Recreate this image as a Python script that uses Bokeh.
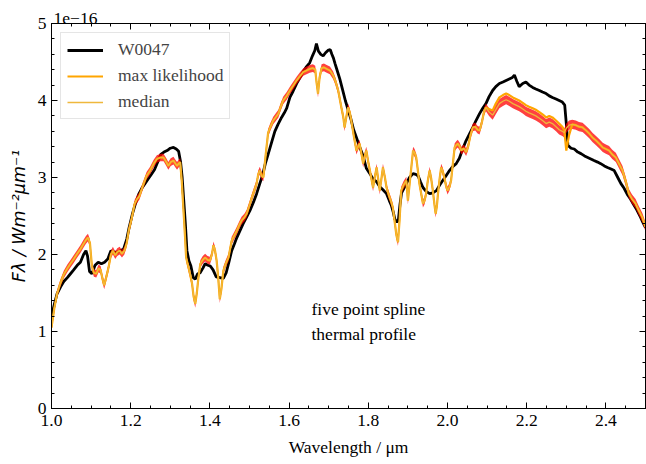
from bokeh.plotting import figure
from bokeh.models import Range1d, FixedTicker, LinearAxis, Label, Legend, LegendItem
from bokeh.embed import file_html
from bokeh.resources import INLINE

# ---------------- data ----------------
obs_wl = [
    1.000, 1.007, 1.014, 1.023, 1.031, 1.040, 1.048, 1.056, 1.065, 1.073,
    1.081, 1.087, 1.091, 1.096, 1.102, 1.110, 1.118, 1.126, 1.134, 1.142,
    1.150, 1.158, 1.166, 1.174, 1.182, 1.190, 1.196, 1.204, 1.212, 1.220,
    1.228, 1.236, 1.244, 1.252, 1.260, 1.268, 1.276, 1.284, 1.292, 1.300,
    1.308, 1.315, 1.321, 1.326, 1.330, 1.334, 1.338, 1.342, 1.347, 1.352,
    1.358, 1.363, 1.369, 1.375, 1.382, 1.388, 1.395, 1.401, 1.408, 1.416,
    1.425, 1.434, 1.441, 1.448, 1.455, 1.462, 1.468, 1.476, 1.484, 1.492,
    1.501, 1.510, 1.518, 1.526, 1.533, 1.540, 1.547, 1.556, 1.564, 1.572,
    1.581, 1.588, 1.594, 1.602, 1.610, 1.619, 1.628, 1.636, 1.644, 1.652,
    1.659, 1.665, 1.669, 1.674, 1.680, 1.686, 1.692, 1.698, 1.704, 1.708,
    1.712, 1.716, 1.722, 1.728, 1.735, 1.742, 1.749, 1.756, 1.763, 1.770,
    1.778, 1.787, 1.795, 1.804, 1.812, 1.820, 1.829, 1.837, 1.846, 1.853,
    1.858, 1.863, 1.867, 1.872, 1.876, 1.880, 1.884, 1.890, 1.896, 1.904,
    1.913, 1.920, 1.926, 1.932, 1.938, 1.946, 1.955, 1.963, 1.972, 1.980,
    1.988, 1.996, 2.005, 2.013, 2.022, 2.030, 2.039, 2.047, 2.055, 2.064,
    2.072, 2.081, 2.089, 2.097, 2.105, 2.114, 2.122, 2.131, 2.140, 2.148,
    2.156, 2.164, 2.169, 2.175, 2.181, 2.190, 2.198, 2.206, 2.215, 2.223,
    2.232, 2.240, 2.249, 2.257, 2.265, 2.274, 2.282, 2.290, 2.296, 2.300,
    2.304, 2.312, 2.320, 2.329, 2.337, 2.346, 2.354, 2.362, 2.370, 2.379,
    2.387, 2.396, 2.404, 2.413, 2.421, 2.430, 2.438, 2.446, 2.454, 2.462,
    2.470, 2.478, 2.486, 2.493, 2.500,
]
obs_flux = [
    1.20, 1.35, 1.49, 1.58, 1.65, 1.70, 1.75, 1.80, 1.86, 1.90,
    2.00, 2.05, 1.98, 1.78, 1.75, 1.86, 1.90, 1.88, 1.90, 1.94,
    2.05, 2.03, 2.03, 2.05, 2.07, 2.20, 2.35, 2.52, 2.66, 2.78,
    2.86, 2.92, 2.98, 3.04, 3.10, 3.20, 3.30, 3.33, 3.35, 3.38,
    3.39, 3.37, 3.34, 3.20, 3.00, 2.70, 2.40, 2.05, 1.92, 1.85,
    1.70, 1.68, 1.75, 1.76, 1.82, 1.88, 1.86, 1.85, 1.80, 1.71,
    1.70, 1.69, 1.76, 1.90, 2.05, 2.14, 2.22, 2.31, 2.40, 2.48,
    2.57, 2.68, 2.79, 2.92, 3.03, 3.18, 3.30, 3.46, 3.60, 3.69,
    3.78, 3.84, 3.90, 4.04, 4.12, 4.22, 4.30, 4.38, 4.44, 4.49,
    4.58, 4.65, 4.74, 4.64, 4.60, 4.58, 4.62, 4.65, 4.66, 4.60,
    4.55, 4.48, 4.38, 4.28, 4.14, 4.00, 3.88, 3.76, 3.62, 3.52,
    3.40, 3.28, 3.12, 3.05, 2.98, 2.95, 2.88, 2.84, 2.79, 2.70,
    2.64, 2.55, 2.46, 2.42, 2.45, 2.65, 2.80, 2.86, 2.92, 3.00,
    3.05, 3.04, 3.02, 2.94, 2.87, 2.82, 2.79, 2.80, 2.83, 2.90,
    2.96, 3.02, 3.09, 3.14, 3.18, 3.25, 3.38, 3.48, 3.56, 3.65,
    3.74, 3.83, 3.90, 3.96, 4.05, 4.13, 4.18, 4.22, 4.24, 4.26,
    4.28, 4.30, 4.33, 4.25, 4.18, 4.22, 4.24, 4.20, 4.17, 4.15,
    4.13, 4.11, 4.09, 4.06, 4.04, 4.02, 4.00, 3.98, 3.94, 3.70,
    3.42, 3.38, 3.37, 3.33, 3.31, 3.28, 3.26, 3.24, 3.22, 3.20,
    3.18, 3.15, 3.13, 3.11, 3.09, 3.00, 2.92, 2.86, 2.78, 2.72,
    2.65, 2.58, 2.50, 2.42, 2.35,
]

model_wl = [
    1.000, 1.007, 1.014, 1.022, 1.031, 1.040, 1.048, 1.056, 1.065, 1.073, 1.081, 1.087,
    1.092, 1.097, 1.102, 1.107, 1.113, 1.119, 1.124, 1.129, 1.133, 1.138, 1.144, 1.150,
    1.155, 1.161, 1.166, 1.172, 1.178, 1.184, 1.190, 1.195, 1.203, 1.210, 1.216, 1.222,
    1.230, 1.240, 1.249, 1.258, 1.266, 1.275, 1.283, 1.290, 1.295, 1.301, 1.308, 1.313,
    1.317, 1.321, 1.325, 1.329, 1.333, 1.337, 1.340, 1.346, 1.351, 1.355, 1.359, 1.363,
    1.367, 1.371, 1.376, 1.382, 1.388, 1.394, 1.400, 1.405, 1.409, 1.413, 1.417, 1.421,
    1.425, 1.429, 1.434, 1.440, 1.447, 1.455, 1.462, 1.468, 1.474, 1.480, 1.487, 1.493,
    1.500, 1.506, 1.512, 1.518, 1.522, 1.526, 1.531, 1.535, 1.541, 1.547, 1.553, 1.560,
    1.566, 1.573, 1.579, 1.585, 1.594, 1.602, 1.610, 1.619, 1.628, 1.636, 1.644, 1.652,
    1.660, 1.666, 1.669, 1.673, 1.677, 1.682, 1.688, 1.695, 1.703, 1.711, 1.717, 1.724,
    1.728, 1.732, 1.737, 1.740, 1.745, 1.749, 1.753, 1.757, 1.763, 1.770, 1.774, 1.778,
    1.783, 1.787, 1.791, 1.795, 1.800, 1.804, 1.808, 1.812, 1.817, 1.821, 1.825, 1.829,
    1.833, 1.837, 1.842, 1.846, 1.850, 1.854, 1.858, 1.862, 1.866, 1.871, 1.875, 1.879,
    1.883, 1.889, 1.896, 1.900, 1.906, 1.913, 1.917, 1.921, 1.925, 1.929, 1.934, 1.938,
    1.942, 1.946, 1.950, 1.955, 1.959, 1.963, 1.967, 1.970, 1.973, 1.976, 1.980, 1.984,
    1.988, 1.992, 1.996, 2.000, 2.005, 2.009, 2.013, 2.018, 2.022, 2.026, 2.031, 2.035,
    2.041, 2.047, 2.052, 2.058, 2.064, 2.070, 2.076, 2.081, 2.087, 2.092, 2.097, 2.105,
    2.114, 2.122, 2.131, 2.140, 2.148, 2.156, 2.165, 2.173, 2.181, 2.190, 2.198, 2.206,
    2.215, 2.223, 2.232, 2.240, 2.249, 2.257, 2.265, 2.274, 2.282, 2.290, 2.295, 2.300,
    2.307, 2.315, 2.324, 2.332, 2.341, 2.350, 2.358, 2.366, 2.375, 2.383, 2.392, 2.400,
    2.408, 2.416, 2.425, 2.433, 2.442, 2.450, 2.458, 2.466, 2.475, 2.483, 2.492, 2.500,
]
ml_flux = [
    1.05, 1.30, 1.49, 1.62, 1.74, 1.82, 1.88, 1.94, 2.01, 2.07, 2.14, 2.19,
    2.22, 2.15, 1.85, 1.76, 1.75, 1.82, 1.80, 1.68, 1.60, 1.70, 1.83, 2.00,
    2.05, 1.99, 2.03, 2.05, 2.01, 2.05, 2.15, 2.31, 2.48, 2.66, 2.72, 2.76,
    2.88, 3.02, 3.09, 3.18, 3.24, 3.26, 3.26, 3.20, 3.15, 3.20, 3.22, 3.18,
    3.15, 3.18, 3.20, 2.95, 2.60, 2.25, 1.96, 1.83, 1.72, 1.62, 1.45, 1.36,
    1.50, 1.70, 1.88, 1.93, 1.96, 1.93, 1.92, 2.00, 2.12, 2.05, 1.92, 1.70,
    1.42, 1.55, 1.79, 1.88, 1.96, 2.18, 2.25, 2.31, 2.38, 2.44, 2.48, 2.53,
    2.64, 2.74, 2.83, 2.92, 3.04, 3.09, 3.02, 3.00, 3.30, 3.58, 3.66, 3.74,
    3.78, 3.83, 3.92, 4.00, 4.06, 4.13, 4.19, 4.26, 4.32, 4.37, 4.39, 4.41,
    4.42, 4.40, 4.25, 4.09, 4.30, 4.42, 4.43, 4.41, 4.39, 4.33, 4.25, 4.13,
    4.02, 3.91, 3.78, 3.65, 3.80, 3.91, 3.85, 3.74, 3.55, 3.35, 3.40, 3.44,
    3.30, 3.18, 3.28, 3.35, 3.20, 3.09, 2.98, 2.87, 3.02, 3.13, 2.98, 2.83,
    2.98, 3.13, 3.00, 2.87, 2.80, 2.74, 2.68, 2.61, 2.45, 2.25, 2.16, 2.45,
    2.83, 2.90, 2.96, 2.70, 3.00, 3.35, 3.32, 3.26, 3.10, 2.92, 2.78, 2.66,
    2.70, 2.79, 2.95, 3.09, 2.98, 2.83, 2.65, 2.53, 2.62, 2.79, 2.98, 3.13,
    3.08, 3.00, 2.90, 2.83, 2.88, 2.96, 3.15, 3.39, 3.42, 3.44, 3.40, 3.35,
    3.38, 3.33, 3.40, 3.55, 3.65, 3.66, 3.62, 3.61, 3.72, 3.85, 3.91, 3.89,
    3.87, 3.96, 4.04, 4.07, 4.09, 4.07, 4.04, 4.02, 4.00, 3.97, 3.94, 3.92,
    3.90, 3.88, 3.85, 3.82, 3.78, 3.80, 3.78, 3.74, 3.70, 3.66, 3.61, 3.35,
    3.55, 3.69, 3.68, 3.66, 3.65, 3.61, 3.57, 3.52, 3.48, 3.44, 3.39, 3.37,
    3.35, 3.30, 3.26, 3.18, 3.09, 2.95, 2.79, 2.72, 2.66, 2.57, 2.48, 2.36,
]
median_flux = [
    1.05, 1.30, 1.49, 1.62, 1.74, 1.82, 1.88, 1.94, 2.01, 2.07, 2.14, 2.19,
    2.22, 2.15, 1.85, 1.76, 1.75, 1.82, 1.80, 1.68, 1.60, 1.70, 1.83, 2.00,
    2.05, 1.99, 2.03, 2.05, 2.01, 2.05, 2.15, 2.31, 2.48, 2.66, 2.72, 2.76,
    2.88, 3.02, 3.09, 3.18, 3.24, 3.26, 3.26, 3.20, 3.15, 3.20, 3.22, 3.18,
    3.15, 3.18, 3.20, 2.95, 2.60, 2.25, 1.96, 1.83, 1.72, 1.62, 1.45, 1.36,
    1.50, 1.70, 1.88, 1.93, 1.96, 1.93, 1.92, 2.00, 2.12, 2.05, 1.92, 1.70,
    1.42, 1.55, 1.79, 1.88, 1.96, 2.18, 2.25, 2.31, 2.38, 2.44, 2.48, 2.53,
    2.64, 2.74, 2.83, 2.92, 3.04, 3.09, 3.02, 3.00, 3.30, 3.58, 3.66, 3.74,
    3.78, 3.83, 3.92, 4.00, 4.06, 4.13, 4.19, 4.26, 4.32, 4.37, 4.39, 4.41,
    4.42, 4.40, 4.25, 4.09, 4.30, 4.42, 4.43, 4.41, 4.39, 4.33, 4.25, 4.13,
    4.02, 3.91, 3.78, 3.65, 3.80, 3.91, 3.85, 3.74, 3.55, 3.35, 3.40, 3.44,
    3.30, 3.18, 3.28, 3.35, 3.20, 3.09, 2.98, 2.87, 3.02, 3.13, 2.98, 2.83,
    2.98, 3.13, 3.00, 2.87, 2.80, 2.74, 2.68, 2.61, 2.45, 2.25, 2.16, 2.45,
    2.83, 2.90, 2.96, 2.70, 3.00, 3.35, 3.32, 3.26, 3.10, 2.92, 2.78, 2.66,
    2.70, 2.79, 2.95, 3.09, 2.98, 2.83, 2.65, 2.53, 2.62, 2.79, 2.98, 3.13,
    3.08, 3.00, 2.90, 2.83, 2.88, 2.96, 3.15, 3.39, 3.42, 3.44, 3.40, 3.35,
    3.38, 3.33, 3.40, 3.55, 3.65, 3.66, 3.62, 3.61, 3.72, 3.85, 3.91, 3.85,
    3.81, 3.88, 3.96, 3.99, 4.01, 3.99, 3.96, 3.94, 3.92, 3.89, 3.86, 3.84,
    3.82, 3.80, 3.77, 3.74, 3.70, 3.72, 3.70, 3.66, 3.62, 3.60, 3.58, 3.64,
    3.68, 3.69, 3.68, 3.66, 3.65, 3.61, 3.57, 3.52, 3.48, 3.44, 3.39, 3.37,
    3.35, 3.30, 3.26, 3.18, 3.09, 2.95, 2.79, 2.72, 2.66, 2.57, 2.48, 2.36,
]
spread = [
    0.05, 0.05, 0.05, 0.05, 0.05, 0.05, 0.05, 0.05, 0.05, 0.05, 0.05, 0.05,
    0.05, 0.05, 0.05, 0.05, 0.05, 0.05, 0.05, 0.05, 0.05, 0.05, 0.05, 0.05,
    0.05, 0.05, 0.05, 0.05, 0.05, 0.05, 0.05, 0.05, 0.05, 0.05, 0.05, 0.05,
    0.05, 0.05, 0.05, 0.05, 0.05, 0.05, 0.05, 0.05, 0.05, 0.05, 0.05, 0.05,
    0.05, 0.05, 0.05, 0.05, 0.05, 0.05, 0.05, 0.05, 0.05, 0.05, 0.05, 0.05,
    0.05, 0.05, 0.05, 0.05, 0.05, 0.05, 0.05, 0.05, 0.05, 0.05, 0.05, 0.05,
    0.05, 0.05, 0.05, 0.05, 0.05, 0.05, 0.05, 0.05, 0.05, 0.05, 0.05, 0.05,
    0.05, 0.05, 0.05, 0.05, 0.05, 0.05, 0.05, 0.05, 0.05, 0.05, 0.05, 0.05,
    0.05, 0.05, 0.05, 0.05, 0.05, 0.05, 0.05, 0.05, 0.05, 0.05, 0.05, 0.05,
    0.05, 0.05, 0.05, 0.05, 0.05, 0.05, 0.05, 0.05, 0.05, 0.05, 0.05, 0.05,
    0.05, 0.05, 0.05, 0.05, 0.05, 0.05, 0.05, 0.05, 0.05, 0.05, 0.05, 0.05,
    0.05, 0.05, 0.05, 0.05, 0.05, 0.05, 0.05, 0.05, 0.05, 0.05, 0.05, 0.05,
    0.05, 0.05, 0.05, 0.05, 0.05, 0.05, 0.05, 0.05, 0.05, 0.05, 0.05, 0.05,
    0.05, 0.05, 0.05, 0.05, 0.05, 0.05, 0.05, 0.05, 0.05, 0.05, 0.05, 0.05,
    0.05, 0.05, 0.05, 0.05, 0.05, 0.05, 0.05, 0.05, 0.05, 0.05, 0.05, 0.05,
    0.05, 0.05, 0.05, 0.05, 0.05, 0.05, 0.05, 0.05, 0.05, 0.05, 0.05, 0.05,
    0.05, 0.05, 0.05, 0.05, 0.05, 0.05, 0.05, 0.05, 0.05, 0.05, 0.05, 0.05,
    0.06, 0.06, 0.06, 0.06, 0.06, 0.06, 0.06, 0.06, 0.06, 0.06, 0.06, 0.06,
    0.06, 0.06, 0.06, 0.06, 0.06, 0.06, 0.06, 0.06, 0.06, 0.06, 0.06, 0.06,
    0.06, 0.06, 0.06, 0.06, 0.06, 0.06, 0.06, 0.06, 0.06, 0.06, 0.06, 0.06,
    0.06, 0.06, 0.06, 0.06, 0.06, 0.06, 0.06, 0.06, 0.06, 0.06, 0.06, 0.06,
]

x_tick_values = [1.0, 1.2, 1.4, 1.6, 1.8, 2.0, 2.2, 2.4]
x_tick_labels = ["1.0", "1.2", "1.4", "1.6", "1.8", "2.0", "2.2", "2.4"]
y_tick_values = [0, 1, 2, 3, 4, 5]
y_tick_labels = ["0", "1", "2", "3", "4", "5"]

legend_labels = ["W0047", "max likelihood", "median"]
annotation_lines = ["five point spline", "thermal profile"]
offset_text = "1e\u221216"
x_label = "Wavelength / \u03bcm"
y_label = "F\u03bb / Wm\u207b\u00b2\u03bcm\u207b\u00b9"

assert len(obs_wl) == len(obs_flux)
assert len(model_wl) == len(ml_flux) == len(median_flux) == len(spread)

band_lo = [m - s for m, s in zip(median_flux, spread)]
band_hi = [m + s for m, s in zip(median_flux, spread)]

# ---------------- layout ----------------
W, H = 646, 464
FL, FR, FT, FB = 51, 645, 23, 408          # frame edges in pixels
X0, X1, Y0, Y1 = 1.0, 2.5, 0.0, 5.0

def dx(px):
    return X0 + (px - FL) * (X1 - X0) / (FR - FL)

def dy(py):
    return Y0 + (FB - py) * (Y1 - Y0) / (FB - FT)

SERIF = "Liberation Serif"
MATH = "DejaVu Sans"
FS = "17.5px"

p = figure(width=W, height=H, x_range=Range1d(X0, X1), y_range=Range1d(Y0, Y1),
           output_backend="svg", toolbar_location=None,
           x_axis_type=None, y_axis_type=None,
           min_border_left=FL, min_border_right=W - FR, min_border_top=FT,
           min_border_bottom=H - FB)
p.grid.visible = False
p.outline_line_color = "black"
p.outline_line_width = 1
p.background_fill_color = "white"
p.border_fill_color = "white"

# offset text "1e-16" as a left-aligned title above the frame
p.title.text = offset_text
p.title.align = "left"
p.title.offset = 2
p.title.standoff = 0
p.title.text_font = SERIF
p.title.text_font_size = FS
p.title.text_font_style = "normal"
p.title.text_color = "black"

x_minor = [round(X0 + 0.05 * i, 3) for i in range(31)]
y_minor = [round(0.2 * i, 3) for i in range(26)]

def make_axis(values, labels, minor, show):
    ax = LinearAxis(ticker=FixedTicker(ticks=values, minor_ticks=minor))
    ax.major_label_overrides = {v: l for v, l in zip(values, labels)}
    ax.major_tick_in = 6
    ax.major_tick_out = 0
    ax.minor_tick_in = 3
    ax.minor_tick_out = 0
    ax.axis_line_color = "black"
    ax.major_tick_line_color = "black"
    ax.minor_tick_line_color = "black"
    ax.major_label_text_font = SERIF
    if show:
        ax.major_label_text_font_size = FS
        ax.major_label_text_color = "black"
    else:
        ax.major_label_text_font_size = "1px"
        ax.major_label_text_color = None
        ax.major_label_standoff = 0
    return ax

xb = make_axis(x_tick_values, x_tick_labels, x_minor, True)
xb.major_label_standoff = 6
xb.axis_label = x_label
xb.axis_label_text_font = SERIF
xb.axis_label_text_font_size = FS
xb.axis_label_text_font_style = "normal"
xb.axis_label_text_color = "black"
xb.axis_label_standoff = 8

yl = make_axis(y_tick_values, y_tick_labels, y_minor, True)
yl.major_label_standoff = 5
yl.axis_label = y_label
yl.axis_label_text_font = MATH
yl.axis_label_text_font_size = FS
yl.axis_label_text_font_style = "italic"
yl.axis_label_text_color = "black"
yl.axis_label_standoff = 6

p.add_layout(xb, "below")
p.add_layout(yl, "left")
p.add_layout(make_axis(x_tick_values, x_tick_labels, x_minor, False), "above")
p.add_layout(make_axis(y_tick_values, y_tick_labels, y_minor, False), "right")

# ---------------- glyphs ----------------
r_obs = p.line(obs_wl, obs_flux, line_color="black", line_width=2.8)
p.varea(x=model_wl, y1=band_lo, y2=band_hi, fill_color="red", fill_alpha=0.75)
r_ml = p.line(model_wl, ml_flux, line_color="#FFA500", line_width=2.2)
r_med = p.line(model_wl, median_flux, line_color="#EFB83C", line_width=1.3)

legend = Legend(items=[LegendItem(label=legend_labels[0], renderers=[r_obs]),
                       LegendItem(label=legend_labels[1], renderers=[r_ml]),
                       LegendItem(label=legend_labels[2], renderers=[r_med])],
                location="top_left")
legend.label_text_font = SERIF
legend.label_text_font_size = FS
legend.glyph_width = 36
legend.glyph_height = 20
legend.label_height = 20
legend.label_standoff = 15
legend.spacing = 5
legend.padding = 6
legend.margin = 9
legend.border_line_color = "#cccccc"
legend.border_line_width = 1
legend.background_fill_color = "white"
legend.background_fill_alpha = 0.8
p.add_layout(legend)

# ---------------- in-frame annotation ----------------
for text, py in zip(annotation_lines, [308, 333]):
    p.add_layout(Label(x=dx(311), y=dy(py), text=text, text_font=SERIF,
                       text_font_size=FS, text_color="black",
                       text_align="left", text_baseline="alphabetic"))

open("out.html", "w").write(file_html(p, INLINE))
